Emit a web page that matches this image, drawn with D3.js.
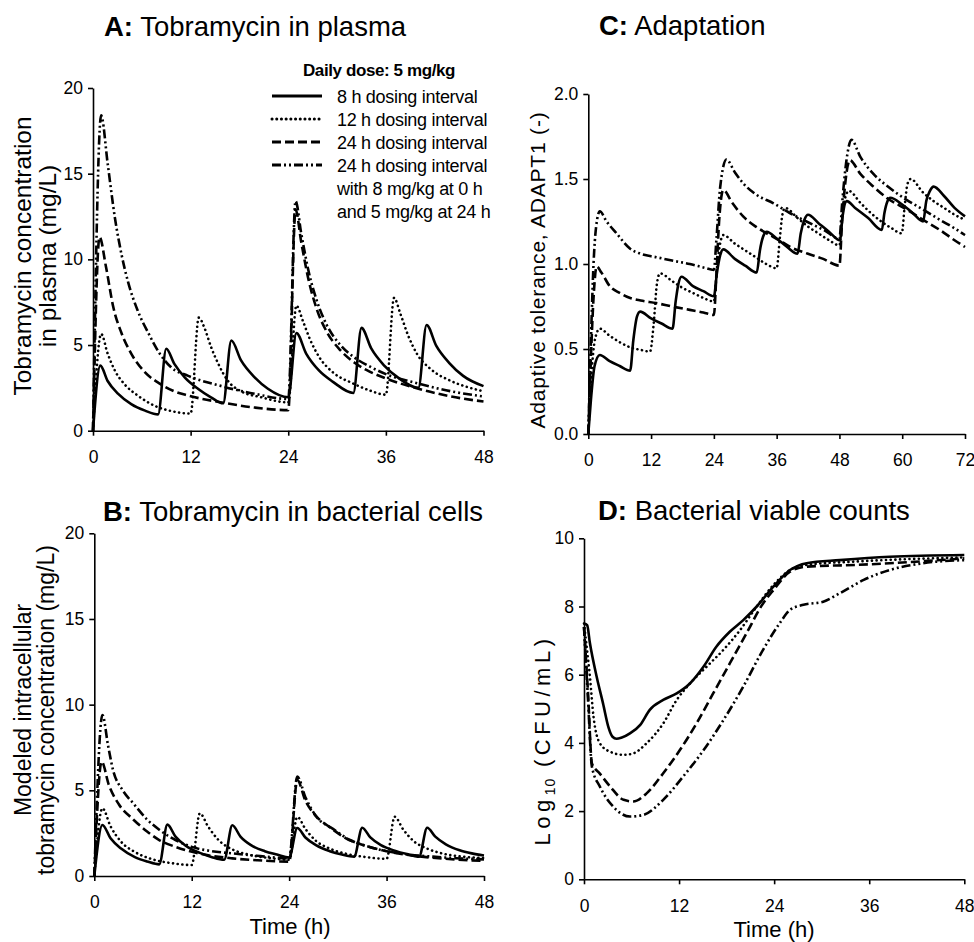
<!DOCTYPE html>
<html>
<head>
<meta charset="utf-8">
<script src="https://cdnjs.cloudflare.com/ajax/libs/d3/7.8.5/d3.min.js"></script>
<style>
  body { margin: 0; background: #fff; }
  text { font-family: "Liberation Sans", Arial, sans-serif; fill: #000; }
</style>
</head>
<body>
<div id="chart"></div>
<script>
// ---- data: [time (h), value] ----
// A: plasma concentration (mg/L)
var plasma8h = [[0,0],[0.9,3.8],[1.8,2.9],[3.1,2.15],[4.7,1.55],[6.4,1.17],[8,0.95],
  [9,4.78],[10,3.9],[11.3,3.1],[12.9,2.45],[14.5,1.95],[16,1.6],
  [17,5.26],[18.2,4.1],[19.9,3.1],[21.5,2.45],[24,1.95],
  [25,5.7],[26.2,4.5],[27.8,3.5],[29.5,2.85],[32,2.2],
  [33,6.0],[34.2,4.8],[35.8,3.8],[37.5,3.1],[40,2.5],
  [41,6.17],[42.2,4.95],[43.8,3.95],[45.5,3.2],[48,2.6]];
var plasma12h = [[0,0],[1,5.65],[1.8,4.5],[2.7,3.5],[3.9,2.7],[5.5,2.05],[7.6,1.45],[9.6,1.15],[12,1.0],
  [13,6.6],[13.7,6.0],[14.5,4.9],[15.4,3.9],[16.6,2.9],[18.2,2.3],[20.7,1.95],[24,1.65],
  [25,7.3],[25.8,6.4],[26.7,5.3],[27.8,4.3],[29.5,3.4],[32,2.75],[34,2.35],[36,2.1],
  [37,7.75],[37.8,6.8],[38.7,5.6],[39.8,4.5],[41.5,3.6],[44,2.9],[46,2.55],[48,2.3]];
var plasma24h = [[0,0],[0.8,11.3],[1.6,9.55],[2.5,7.2],[3.5,5.7],[4.7,4.5],[6.4,3.4],[8.2,2.75],[10,2.3],[11.7,2.05],[15.8,1.65],[19.9,1.35],[24,1.2],
  [24.9,12.9],[25.6,11.0],[26.5,8.8],[27.5,7.1],[28.7,5.8],[30.4,4.7],[32.2,3.95],[34,3.45],[36,3.05],[40,2.45],[44,2.0],[48,1.7]];
var plasma24h8 = [[0,0],[1,18.4],[1.8,15.6],[2.7,12.4],[3.5,10.3],[4.3,8.7],[5.5,7.0],[6.8,5.7],[8.2,4.5],[9.6,3.7],[11.7,3.2],[15.8,2.6],[19.9,2.15],[24,1.85],
  [24.9,13.4],[25.6,11.5],[26.5,9.3],[27.5,7.6],[28.7,6.2],[30.4,5.0],[32.2,4.25],[34,3.75],[36,3.3],[40,2.75],[44,2.3],[48,2.0]];

// B: intracellular concentration (mg/L)
var cell8h = [[0,0],[1,2.98],[2,2.2],[3.3,1.6],[5,1.1],[6.5,0.85],[8,0.68],
  [9,3.0],[10,2.3],[11.3,1.75],[13,1.35],[14.5,1.1],[16,0.95],
  [17,2.96],[18,2.3],[19.3,1.8],[21,1.45],[22.5,1.25],[24,1.07],
  [25,2.8],[26,2.25],[27.3,1.8],[29,1.45],[30.5,1.25],[32,1.13],
  [33,2.82],[34,2.25],[35.3,1.8],[37,1.48],[38.5,1.28],[40,1.13],
  [41,2.82],[42,2.3],[43.3,1.85],[45,1.5],[46.5,1.32],[48,1.2]];
var cell12h = [[0,0],[1,3.95],[2,2.9],[3.3,2.0],[5,1.4],[7,1.0],[9.5,0.75],[12,0.64],
  [13,3.66],[14,2.9],[15.3,2.1],[17,1.55],[19,1.25],[21.5,1.05],[24,0.95],
  [25,3.45],[26,2.75],[27.3,2.05],[29,1.6],[31,1.3],[33.5,1.1],[36,1.0],
  [37,3.46],[38,2.75],[39.3,2.05],[41,1.6],[43,1.3],[45.5,1.12],[48,1.05]];
var cell24h = [[0,0],[0.9,6.67],[1.8,5.3],[3,4.2],[4.8,3.3],[6.5,2.6],[8,2.1],[10,1.7],[13,1.3],[17,1.03],[20,0.92],[24,0.84],
  [25,5.6],[26,4.4],[27.3,3.5],[29,2.85],[31,2.2],[33.5,1.75],[36,1.45],[40,1.15],[44,0.98],[48,0.88]];
var cell24h8 = [[0,0],[1,9.4],[1.7,7.6],[2.3,6.2],[3.5,5.0],[4.8,4.24],[6.5,3.3],[8,2.7],[10,2.1],[12,1.7],[14.5,1.45],[17,1.32],[20,1.18],[24,1.03],
  [25,5.8],[26,4.6],[27.3,3.5],[29.4,2.75],[31.5,2.1],[33.5,1.75],[35.5,1.5],[37.6,1.32],[41.7,1.13],[44.5,1.04],[48,0.97]];

// C: adaptive tolerance ADAPT1
var adapt8h = [[0,0],[0.5,0.2],[1.2,0.4],[2.2,0.465],[4,0.43],[6,0.4],[8,0.373],
  [8.6,0.55],[9.3,0.69],[9.9,0.72],[12,0.68],[14,0.65],[16.1,0.62],
  [16.7,0.78],[17.2,0.88],[17.8,0.925],[20,0.87],[22,0.84],[24,0.81],
  [24.6,0.95],[25.2,1.05],[25.8,1.086],[28,1.03],[30,0.99],[32.2,0.95],
  [32.8,1.08],[33.4,1.16],[34.1,1.19],[36,1.15],[38,1.1],[40,1.06],
  [40.6,1.18],[41.3,1.26],[42,1.29],[44,1.24],[46,1.19],[48.1,1.14],
  [48.6,1.28],[49.4,1.37],[51,1.33],[53.5,1.27],[56.1,1.2],
  [56.6,1.3],[57.2,1.37],[57.7,1.39],[60,1.35],[62,1.3],[64,1.25],
  [64.6,1.37],[65.3,1.43],[66,1.455],[68,1.4],[70,1.33],[72,1.28]];
var adapt12h = [[0,0],[0.6,0.35],[1.3,0.56],[2.2,0.62],[4,0.58],[6,0.54],[8,0.51],[10,0.495],[11.8,0.485],
  [12.5,0.65],[13.1,0.88],[13.7,0.945],[16,0.9],[18,0.86],[20,0.83],[22,0.8],[24,0.78],
  [24.6,0.98],[25.2,1.12],[25.8,1.17],[28,1.12],[30,1.08],[32,1.04],[34,1.0],[36,0.975],
  [36.6,1.15],[37.1,1.29],[37.6,1.33],[40,1.27],[42,1.22],[44,1.18],[46,1.14],[48,1.11],
  [48.6,1.3],[49.2,1.4],[49.8,1.43],[52,1.36],[54,1.3],[56,1.25],[58,1.21],[59.9,1.18],
  [60.5,1.35],[61,1.47],[61.6,1.5],[64,1.42],[66,1.37],[68,1.33],[70,1.29],[72,1.26]];
var adapt24h = [[0,0],[0.5,0.45],[1,0.8],[1.6,0.985],[2.5,0.95],[4.1,0.87],[6,0.83],[8,0.8],[10,0.785],[13,0.77],[16,0.75],[19.4,0.73],[22,0.715],[24,0.70],
  [24.5,0.95],[25,1.25],[25.8,1.435],[27.5,1.36],[29.6,1.28],[32,1.22],[34.1,1.18],[36.5,1.14],[38.6,1.1],[42,1.06],[44.9,1.03],[48,0.99],
  [48.5,1.25],[49.2,1.5],[50,1.61],[52,1.53],[54.5,1.455],[57,1.39],[60.9,1.32],[64,1.26],[67.2,1.2],[70,1.14],[72,1.10]];
var adapt24h8 = [[0,0],[0.5,0.55],[1,1.0],[1.5,1.22],[2.2,1.31],[3.5,1.25],[5.4,1.18],[8,1.09],[10,1.06],[13,1.04],[16,1.02],[19.4,1.0],[22,0.98],[24,0.965],
  [24.5,1.15],[25.2,1.45],[26.4,1.615],[28,1.54],[29.6,1.475],[32,1.41],[35.4,1.357],[38.5,1.3],[41.7,1.25],[45,1.2],[48,1.15],
  [48.5,1.35],[49.3,1.6],[50.3,1.73],[52,1.63],[54.5,1.53],[57.5,1.45],[60.9,1.376],[64,1.32],[67.2,1.26],[70,1.21],[72,1.17]];

// D: log10 CFU/mL
var cfu8h = [[0,7.5],[0.4,7.45],[0.75,6.92],[1.6,5.94],[2.4,5.16],[3.1,4.45],[3.6,4.18],[4.1,4.12],[4.7,4.15],[5.8,4.28],[7.1,4.53],[8.3,4.97],[10,5.26],[11.7,5.45],[13.4,5.75],[15.1,6.24],[16.7,6.82],[18.4,7.26],[20.1,7.6],[21.8,8.0],[23.9,8.58],[26,9.07],[28.1,9.27],[32.3,9.36],[38.6,9.46],[48,9.51]];
var cfu12h = [[0,7.5],[0.3,6.9],[0.75,5.94],[1.2,4.77],[2.0,3.99],[3.3,3.74],[5,3.65],[6.2,3.69],[7.9,3.99],[10,4.57],[11.7,5.26],[13.4,5.75],[15.5,6.24],[17.6,6.73],[19.7,7.31],[21.8,8.0],[23.9,8.63],[26,9.07],[28.1,9.22],[34.4,9.32],[48,9.44]];
var cfu24h = [[0,7.4],[0.5,5.5],[1,3.4],[2,3.1],[3.3,2.72],[5,2.33],[6.2,2.28],[7.9,2.52],[10,3.11],[12.1,3.79],[14.2,4.57],[16.3,5.45],[18.4,6.33],[20.5,7.21],[22.6,8.09],[23.9,8.48],[26,9.02],[28.1,9.17],[34.4,9.22],[48,9.41]];
var cfu24h8 = [[0,7.4],[0.5,5.3],[1,3.3],[2,2.72],[3.7,2.13],[5.8,1.84],[7.5,1.89],[10,2.33],[12.5,3.01],[15.1,3.79],[17.6,4.67],[20.1,5.65],[22.6,6.73],[24.7,7.51],[26,7.9],[27.7,8.05],[30.2,8.14],[32.3,8.39],[35.3,8.78],[38.6,9.07],[42.8,9.27],[48,9.36]];

var legendTitle = "Daily dose: 5 mg/kg";
var legendLabels = [["8 h dosing interval"], ["12 h dosing interval"], ["24 h dosing interval"],
  ["24 h dosing interval", "with 8 mg/kg at 0 h", "and 5 mg/kg at 24 h"]];

// line styles for the four regimens
var styles = [
  {dash: null, cap: "butt"},
  {dash: "0.1,4.6", cap: "round"},
  {dash: "9,4", cap: "butt"},
  {dash: "9,3,2,3,2,3", cap: "butt"}
];

var svg = d3.select("#chart")
  .append("svg")
  .attr("width", 974)
  .attr("height", 942);

function panel(opt) {
  var x = d3.scaleLinear().domain(opt.xDomain).range([opt.left, opt.right]);
  var y = d3.scaleLinear().domain(opt.yDomain).range([opt.bottom, opt.top]);
  var g = svg.append("g");

  var xa = g.append("g")
    .attr("transform", "translate(0," + opt.bottom + ")")
    .call(d3.axisBottom(x).tickValues(opt.xTicks).tickSize(5).tickSizeOuter(0).tickPadding(15));
  var ya = g.append("g")
    .attr("transform", "translate(" + opt.left + ",0)")
    .call(d3.axisLeft(y).tickValues(opt.yTicks).tickSize(5).tickSizeOuter(0).tickPadding(5)
      .tickFormat(opt.yFormat || d3.format("d")));
  [xa, ya].forEach(function(a) {
    a.selectAll("path, line").attr("stroke", "#000").attr("stroke-width", 1.6);
    a.selectAll("text").style("font-size", "17.5px").attr("fill", "#000");
  });

  var line = d3.line()
    .x(function(d) { return x(d[0]); })
    .y(function(d) { return y(d[1]); })
    .curve(d3.curveMonotoneX);

  opt.series.forEach(function(s, i) {
    g.append("path")
      .attr("d", line(s))
      .attr("fill", "none")
      .attr("stroke", "#000")
      .attr("stroke-width", 2.6)
      .attr("stroke-linecap", styles[i].cap)
      .attr("stroke-linejoin", "round")
      .attr("stroke-dasharray", styles[i].dash);
  });

  // panel title: bold letter, normal text
  var t = g.append("text")
    .attr("x", opt.titleX)
    .attr("y", opt.titleY)
    .style("font-size", "27.5px");
  t.append("tspan").style("font-weight", "bold").text(opt.letter + ":");
  t.append("tspan").text(" " + opt.title);
  return g;
}

panel({
  xDomain: [0, 48], yDomain: [0, 20], left: 93, right: 483.5, top: 88, bottom: 430.7,
  xTicks: [0, 12, 24, 36, 48], yTicks: [0, 5, 10, 15, 20],
  series: [plasma8h, plasma12h, plasma24h, plasma24h8],
  letter: "A", title: "Tobramycin in plasma", titleX: 104, titleY: 36
});
panel({
  xDomain: [0, 48], yDomain: [0, 20], left: 94.3, right: 484, top: 533.3, bottom: 876,
  xTicks: [0, 12, 24, 36, 48], yTicks: [0, 5, 10, 15, 20],
  series: [cell8h, cell12h, cell24h, cell24h8],
  letter: "B", title: "Tobramycin in bacterial cells", titleX: 103, titleY: 521
});
panel({
  xDomain: [0, 72], yDomain: [0, 2], left: 588.3, right: 965, top: 94, bottom: 434,
  xTicks: [0, 12, 24, 36, 48, 60, 72], yTicks: [0, 0.5, 1, 1.5, 2], yFormat: d3.format(".1f"),
  series: [adapt8h, adapt12h, adapt24h, adapt24h8],
  letter: "C", title: "Adaptation", titleX: 599, titleY: 35
});
panel({
  xDomain: [0, 48], yDomain: [0, 10], left: 584, right: 964.3, top: 538.3, bottom: 879.3,
  xTicks: [0, 12, 24, 36, 48], yTicks: [0, 2, 4, 6, 8, 10],
  series: [cfu8h, cfu12h, cfu24h, cfu24h8],
  letter: "D", title: "Bacterial viable counts", titleX: 598, titleY: 520
});

// y axis labels
function vlabel(x, y, lines, size, spacing) {
  var t = svg.append("text")
    .attr("transform", "translate(" + x + "," + y + ") rotate(-90)")
    .attr("text-anchor", "middle")
    .style("font-size", size + "px")
    .style("letter-spacing", (spacing || 0) + "px");
  lines.forEach(function(l, i) {
    t.append("tspan").attr("x", 0).attr("dy", i === 0 ? 0 : "1.0em").text(l);
  });
  return t;
}
vlabel(31, 256, ["Tobramycin concentration", "in plasma (mg/L)"], 24.5);
vlabel(31, 710, ["Modeled intracellular", "tobramycin concentration (mg/L)"], 23);
vlabel(545, 270, ["Adaptive tolerance, ADAPT1 (-)"], 21, 0.8);

var dl = svg.append("text")
  .attr("transform", "translate(550,740) rotate(-90)")
  .attr("text-anchor", "middle")
  .style("font-size", "22px")
  .style("letter-spacing", "4.5px");
dl.append("tspan").text("Log");
dl.append("tspan").attr("dy", 5).style("font-size", "14px").style("letter-spacing", "1px").text("10");
dl.append("tspan").attr("dy", -5).text(" (CFU/mL)");

// x axis labels
svg.append("text").attr("x", 290).attr("y", 934).attr("text-anchor", "middle")
  .style("font-size", "22px").text("Time (h)");
svg.append("text").attr("x", 774).attr("y", 937).attr("text-anchor", "middle")
  .style("font-size", "22px").text("Time (h)");

// legend (panel A)
var lg = svg.append("g");
lg.append("text").attr("x", 379).attr("y", 76).attr("text-anchor", "middle")
  .style("font-size", "17px").style("font-weight", "bold").style("letter-spacing", "-0.4px")
  .text(legendTitle);
var rowY = 96;
legendLabels.forEach(function(lab, i) {
  lg.append("line")
    .attr("x1", 272).attr("x2", 322).attr("y1", rowY).attr("y2", rowY)
    .attr("stroke", "#000").attr("stroke-width", 3)
    .attr("stroke-linecap", styles[i].cap)
    .attr("stroke-dasharray", styles[i].dash);
  lab.forEach(function(s, j) {
    lg.append("text").attr("x", 337).attr("y", rowY + 6.5 + j * 23)
      .style("font-size", "18px").style("letter-spacing", "-0.3px").text(s);
  });
  rowY += 23;
});
</script>
</body>
</html>
